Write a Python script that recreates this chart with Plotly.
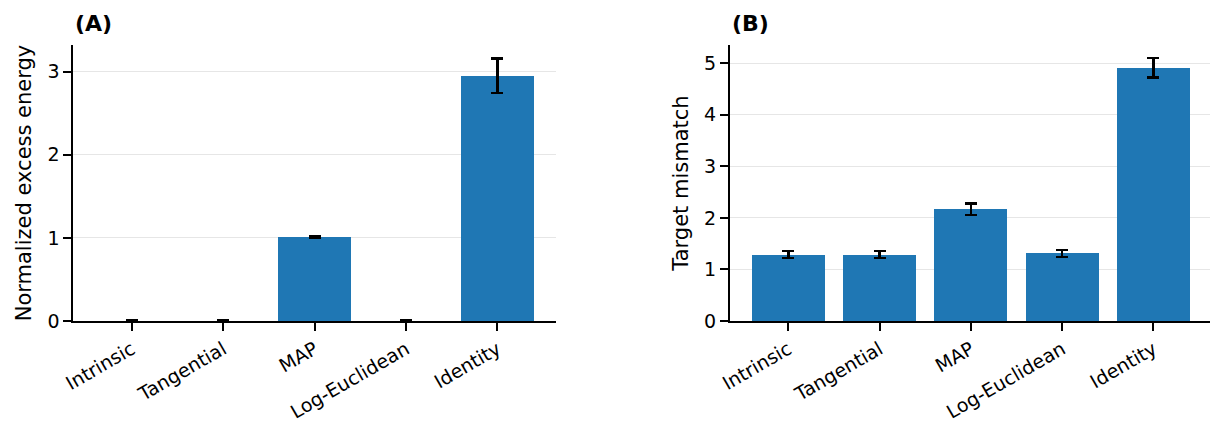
import plotly.graph_objects as go

# Methods compared in both panels
methods = ["Intrinsic", "Tangential", "MAP", "Log-Euclidean", "Identity"]

# Panel A: normalized excess energy (mean and standard error)
energy_mean = [0.0, 0.0, 1.01, 0.0, 2.95]
energy_err = [0.004, 0.004, 0.012, 0.012, 0.205]

# Panel B: target mismatch (mean and standard error)
mismatch_mean = [1.29, 1.29, 2.17, 1.31, 4.91]
mismatch_err = [0.065, 0.065, 0.11, 0.07, 0.19]

panel_labels = ["(A)", "(B)"]
y_titles = ["Normalized excess energy", "Target mismatch"]

W, H = 1210, 425
FONT = "DejaVu Sans"
BLUE = "#1f77b4"
xpos = list(range(len(methods)))

fig = go.Figure()

panels = [
    (energy_mean, energy_err, "x", "y"),
    (mismatch_mean, mismatch_err, "x2", "y2"),
]
for mean, err, xa, ya in panels:
    fig.add_trace(go.Bar(
        x=xpos, y=mean, width=0.8,
        marker=dict(color=BLUE, line=dict(width=0)),
        error_y=dict(type="data", array=err, visible=True,
                     color="black", thickness=2.5, width=6),
        xaxis=xa, yaxis=ya, showlegend=False,
    ))

axis_common = dict(
    showline=True, linecolor="black", linewidth=2,
    ticks="outside", ticklen=8, tickwidth=2, tickcolor="black",
    tickfont=dict(family=FONT, size=19, color="black"),
    zeroline=False, automargin=False,
)

x_common = dict(axis_common, tickmode="array", tickvals=xpos, ticktext=methods,
                tickangle=-30, range=[-0.64, 4.64], showgrid=False)
y_common = dict(axis_common, showgrid=True, gridcolor="rgba(200,200,200,0.45)",
                gridwidth=1, layer="above traces", dtick=1,
                title_font=dict(family=FONT, size=21, color="black"))

fig.update_layout(
    width=W, height=H,
    margin=dict(l=0, r=0, t=45, b=104),
    plot_bgcolor="white", paper_bgcolor="white",
    bargap=0,
    xaxis=dict(x_common, domain=[73.3 / W, 556 / W], anchor="y"),
    yaxis=dict(y_common, domain=[0, 1], anchor="x", range=[0, 3.32],
               title=dict(text=y_titles[0], standoff=10)),
    xaxis2=dict(x_common, domain=[730 / W, 1.0], anchor="y2", range=[-0.64, 4.62]),
    yaxis2=dict(y_common, domain=[0, 1], anchor="x2", range=[0, 5.355],
                title=dict(text=y_titles[1], standoff=10)),
)

# Panel letters above each y-axis
for label, xa in zip(panel_labels, ["x domain", "x2 domain"]):
    fig.add_annotation(
        text="<b>%s</b>" % label, xref=xa, yref="paper",
        x=0, y=1.0, yshift=22, xanchor="left", yanchor="middle",
        showarrow=False, font=dict(family=FONT, size=22, color="black"),
    )

fig.write_html("out.html")
